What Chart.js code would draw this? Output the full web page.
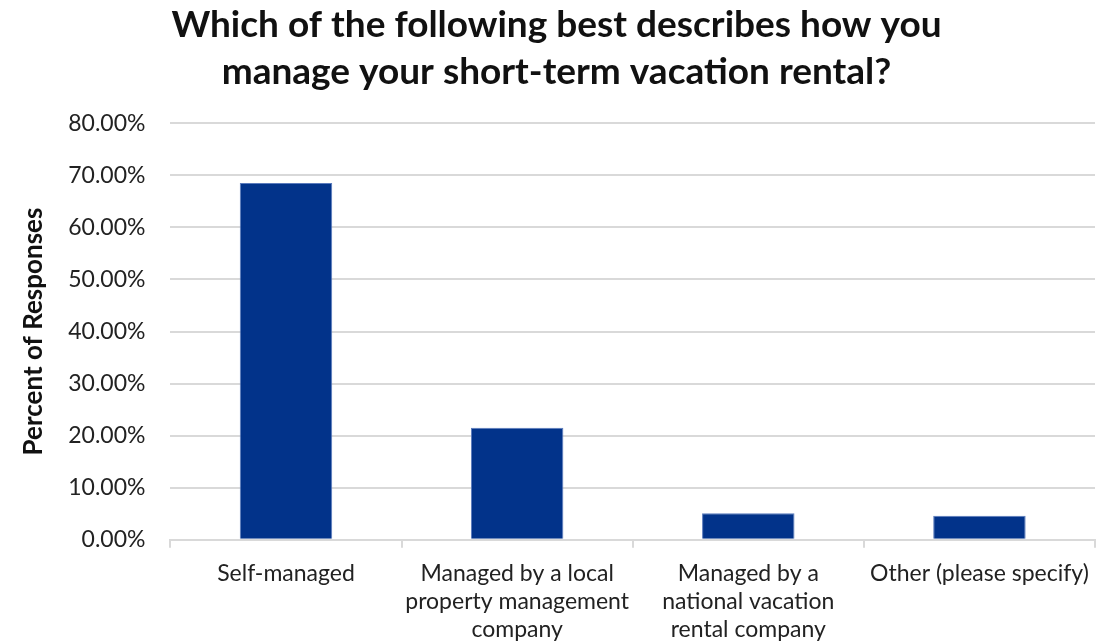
<!DOCTYPE html>
<html>
<head>
<meta charset="utf-8">
<script src="https://cdn.jsdelivr.net/npm/chart.js@4"></script>
<style>
  html, body { margin: 0; padding: 0; background: #fff; }
  #wrap { width: 1112px; height: 644px; }
</style>
</head>
<body>
<div id="wrap"><canvas id="chart"></canvas></div>
<script>
const categories = [
  ['Self-managed'],
  ['Managed by a local', 'property management', 'company'],
  ['Managed by a', 'national vacation', 'rental company'],
  ['Other (please specify)'],
];
const responses = [68.5, 21.5, 5.1, 4.6];
const yTicks = [0, 10, 20, 30, 40, 50, 60, 70, 80];

const BAR = '#02338a';
const GRID = '#d9d9d9';
const FONT = "Lato, 'Open Sans', sans-serif";

new Chart(document.getElementById('chart'), {
  type: 'bar',
  data: {
    labels: categories,
    datasets: [{
      label: 'Percent of Responses',
      data: responses,
      backgroundColor: BAR,
      borderColor: '#5a7bbd',
      borderWidth: 1,
      categoryPercentage: 1,
      barPercentage: 0.4,
    }],
  },
  options: {
    responsive: true,
    maintainAspectRatio: false,
    animation: false,
    layout: { padding: { top: 0, right: 17, bottom: 0, left: 18 } },
    scales: {
      x: {
        // fit() counts tick padding twice; give the space below the labels back
        afterFit: (axis) => { axis.height -= 12; },
        grid: {
          offset: true,
          drawOnChartArea: false,
          color: GRID,
          lineWidth: 2,
          tickLength: 8,
        },
        border: { color: GRID, width: 2 },
        ticks: {
          color: '#222',
          font: { family: FONT, size: 23, lineHeight: 1.22 },
          maxRotation: 0,
          autoSkip: false,
          padding: 12,
        },
      },
      y: {
        min: 0,
        max: 80,
        afterBuildTicks: (axis) => { axis.ticks = yTicks.map(v => ({ value: v })); },
        grid: { color: GRID, lineWidth: 2, drawTicks: false },
        border: { display: false },
        ticks: {
          color: '#222',
          font: { family: FONT, size: 23 },
          padding: 25,
          callback: (v) => v.toFixed(2) + '%',
        },
        title: {
          display: true,
          text: 'Percent of Responses',
          color: '#111',
          font: { family: FONT, size: 26, weight: 'bold' },
          padding: { top: 0, bottom: -6 },
        },
      },
    },
    plugins: {
      legend: { display: false },
      tooltip: { enabled: false },
      title: {
        display: true,
        text: ['Which of the following best describes how you', 'manage your short-term vacation rental?'],
        color: '#111',
        font: { family: FONT, size: 37, weight: 'bold', lineHeight: 1.26 },
        padding: { top: 2, bottom: 28 },
      },
    },
  },
});
</script>
</body>
</html>
